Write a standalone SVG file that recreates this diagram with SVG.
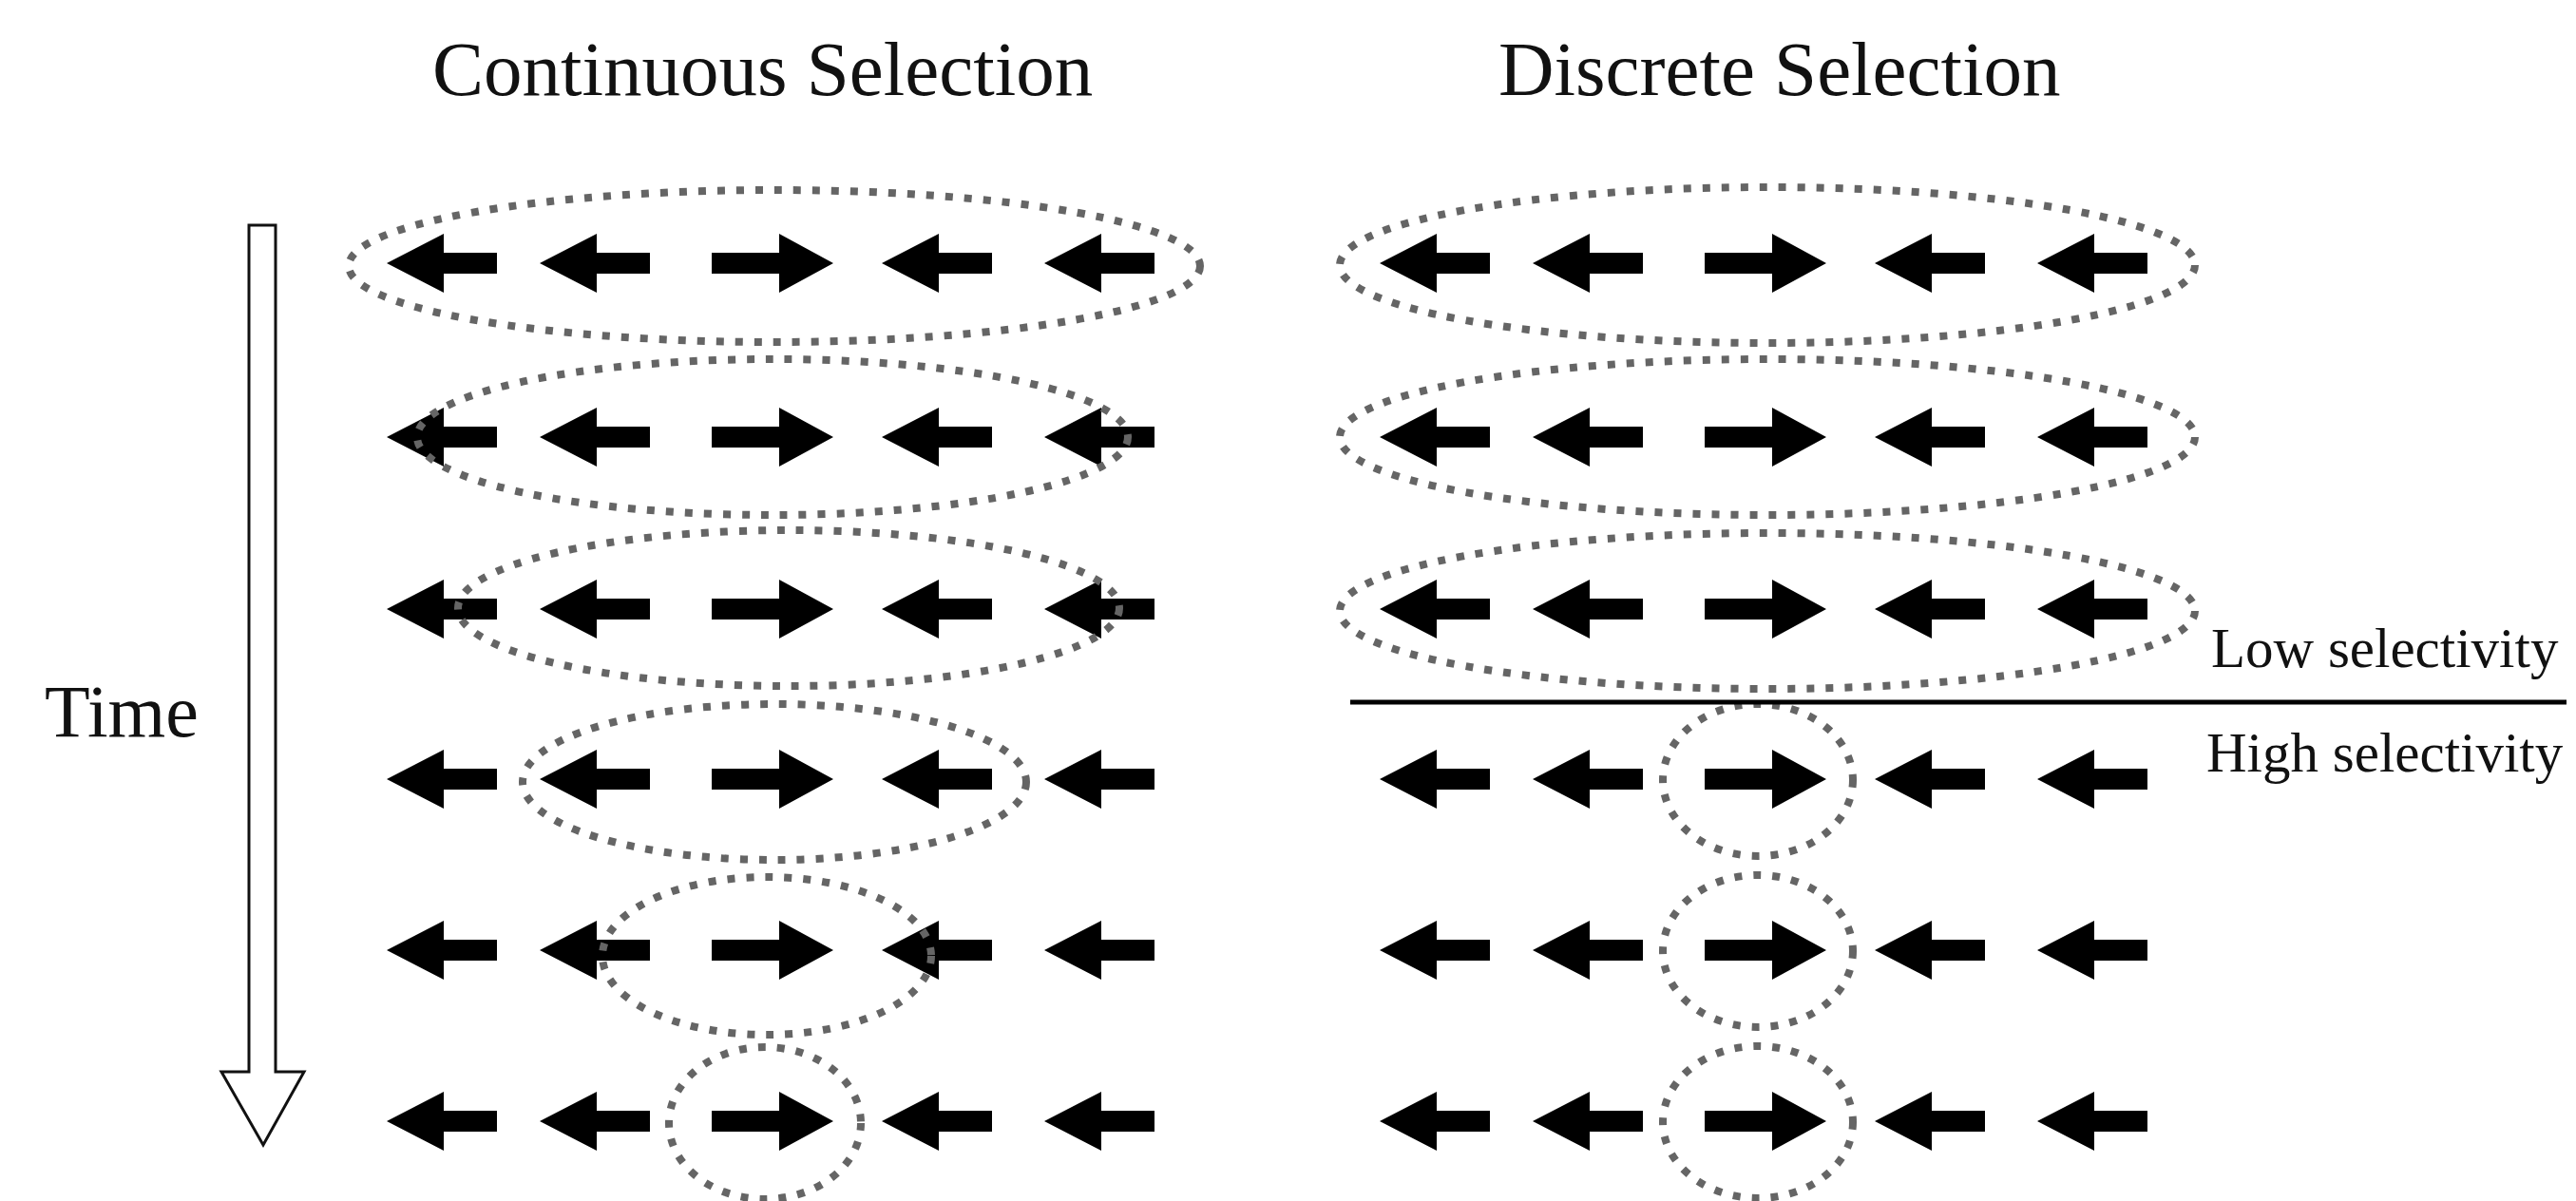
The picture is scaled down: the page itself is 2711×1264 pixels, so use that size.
<svg xmlns="http://www.w3.org/2000/svg" xmlns:xlink="http://www.w3.org/1999/xlink" width="2711" height="1264" viewBox="0 0 2711 1264">
<style>
.t{font-family:"Liberation Serif","Times New Roman",serif;fill:#111}
.sel{fill:none;stroke:#656565;stroke-width:8;stroke-dasharray:8 12}
.ar{fill:#000}
</style>
<defs>
<path id="L" class="ar" d="M0,0 L60,-31 L60,-11 L116,-11 L116,11 L60,11 L60,31 Z"/>
<path id="R" class="ar" d="M0,-11 L71,-11 L71,-31 L128,0 L71,31 L71,11 L0,11 Z"/>
<g id="row">
<use xlink:href="#L" x="407"/>
<use xlink:href="#L" x="568"/>
<use xlink:href="#R" x="749"/>
<use xlink:href="#L" x="928"/>
<use xlink:href="#L" x="1099"/>
</g>
</defs>
<rect width="2711" height="1264" fill="#fff"/>
<g id="titles">
<text class="t" x="455" y="100" font-size="81">Continuous Selection</text>
<text class="t" x="1577" y="100" font-size="81">Discrete Selection</text>
</g>
<g id="time">
<polygon points="262,237 290,237 290,1128 320,1128 277,1205 233,1128 262,1128" fill="#fff" stroke="#111" stroke-width="3"/>
<text class="t" x="47" y="775" font-size="78">Time</text>
</g>
<g id="continuous">
<g id="c1"><use xlink:href="#row" y="277"/><ellipse class="sel" cx="815" cy="280" rx="448" ry="80"/></g>
<g id="c2"><use xlink:href="#row" y="460"/><ellipse class="sel" cx="813" cy="460" rx="374" ry="82"/></g>
<g id="c3"><use xlink:href="#row" y="641"/><ellipse class="sel" cx="830" cy="640" rx="348" ry="82"/></g>
<g id="c4"><use xlink:href="#row" y="820"/><ellipse class="sel" cx="815" cy="823" rx="265" ry="82"/></g>
<g id="c5"><use xlink:href="#row" y="1000"/><ellipse class="sel" cx="807" cy="1006" rx="173" ry="83"/></g>
<g id="c6"><use xlink:href="#row" y="1180"/><ellipse class="sel" cx="805" cy="1182" rx="101" ry="80"/></g>
</g>
<g id="discrete">
<g id="d1"><use xlink:href="#row" x="1045" y="277"/><ellipse class="sel" cx="1860" cy="279" rx="450" ry="82"/></g>
<g id="d2"><use xlink:href="#row" x="1045" y="460"/><ellipse class="sel" cx="1860" cy="460" rx="450" ry="82"/></g>
<g id="d3"><use xlink:href="#row" x="1045" y="641"/><ellipse class="sel" cx="1860" cy="643" rx="450" ry="82"/></g>
<g id="d4"><use xlink:href="#row" x="1045" y="820"/><ellipse class="sel" cx="1850" cy="821" rx="100" ry="80"/></g>
<g id="d5"><use xlink:href="#row" x="1045" y="1000"/><ellipse class="sel" cx="1850" cy="1001" rx="100" ry="80"/></g>
<g id="d6"><use xlink:href="#row" x="1045" y="1180"/><ellipse class="sel" cx="1850" cy="1181" rx="100" ry="80"/></g>
</g>
<g id="divider">
<line x1="1421" y1="739" x2="2701" y2="739" stroke="#000" stroke-width="5"/>
<text class="t" x="2327" y="702" font-size="59">Low selectivity</text>
<text class="t" x="2322" y="812" font-size="59">High selectivity</text>
</g>
</svg>
